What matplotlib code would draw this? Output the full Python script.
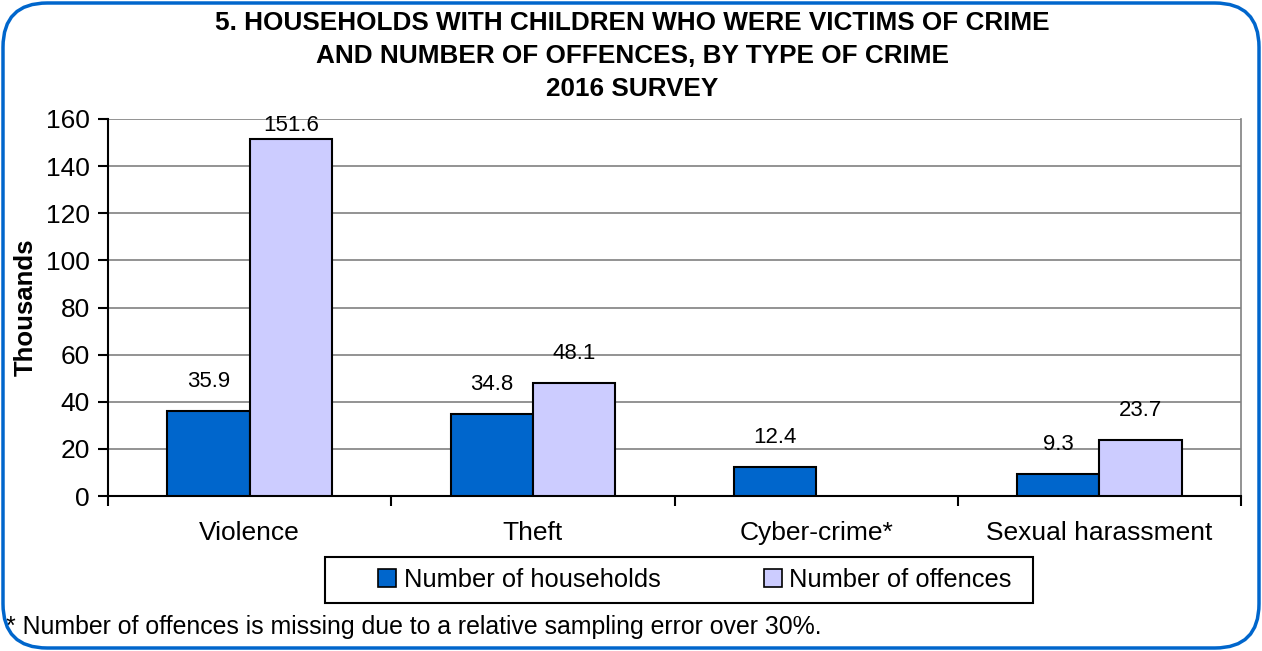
import matplotlib
matplotlib.use("Agg")
import matplotlib.pyplot as plt
import numpy as np
from matplotlib.patches import FancyBboxPatch, Rectangle

plt.rcParams['font.family'] = ['Liberation Sans', 'DejaVu Sans']

categories = ["Violence", "Theft", "Cyber-crime*", "Sexual harassment"]
households = [35.9, 34.8, 12.4, 9.3]
offences = [151.6, 48.1, None, 23.7]
series_names = ["Number of households", "Number of offences"]
yticks = [0, 20, 40, 60, 80, 100, 120, 140, 160]
title = ("5. HOUSEHOLDS WITH CHILDREN WHO WERE VICTIMS OF CRIME\n"
         "AND NUMBER OF OFFENCES, BY TYPE OF CRIME\n2016 SURVEY")
footnote = "* Number of offences is missing due to a relative sampling error over 30%."
ylabel = "Thousands"

c_house = "#0066CC"
c_off = "#CCCCFF"

W, H = 1262, 651
fig = plt.figure(figsize=(W / 100, H / 100), dpi=100)

# rounded border
border = FancyBboxPatch((3 / W, 3 / H), (W - 6) / W, (H - 6) / H,
                        boxstyle="round,pad=0,rounding_size=0.035",
                        transform=fig.transFigure, facecolor="none",
                        edgecolor=c_house, linewidth=2.5, mutation_aspect=W / H,
                        zorder=10)
fig.patches.append(border)

left, right = 108 / W, 1241 / W
bottom, top = 1 - 496 / H, 1 - 119 / H
ax = fig.add_axes([left, bottom, right - left, top - bottom])
ax.set_facecolor("none")

x = np.arange(len(categories))
bw = 0.29
hv = np.array(households, dtype=float)
ov = np.array([np.nan if v is None else v for v in offences], dtype=float)

ax.set_xlim(-0.5, len(categories) - 0.5)
ax.set_ylim(0, 160)

ax.bar(x - bw / 2, hv, bw, color=c_house, edgecolor="black", linewidth=1.5, zorder=3)
mask = ~np.isnan(ov)
ax.bar(x[mask] + bw / 2, ov[mask], bw, color=c_off, edgecolor="black", linewidth=1.5, zorder=3)

# grid
ax.set_yticks(yticks)
ax.yaxis.grid(True, color="#808080", linewidth=1.2, zorder=0)
ax.set_axisbelow(True)
ax.spines["top"].set_visible(False)
ax.spines["right"].set_color("#808080")
ax.spines["right"].set_linewidth(1.2)
ax.spines["left"].set_linewidth(1.5)
ax.spines["bottom"].set_linewidth(1.5)

ax.tick_params(axis="y", direction="out", length=7, width=1.5, labelsize=19, pad=6)
ax.set_xticks(np.arange(-0.5, len(categories), 1.0))
ax.set_xticklabels([])
ax.tick_params(axis="x", direction="out", length=7, width=1.5)
for xi, c in zip(x, categories):
    ax.text(xi, -0.097, c, transform=ax.get_xaxis_transform(), ha="center",
            va="center", fontsize=19)

ax.set_ylabel(ylabel, fontsize=18.5, fontweight="bold", labelpad=6)

# data labels
fig.canvas.draw()
ppu = ax.transData.transform((0, 1))[1] - ax.transData.transform((0, 0))[1]
gap = 19 / ppu
lbl_h = 16 / ppu


def put_label(xp, v):
    yb = v + gap
    if yb + lbl_h > 160:
        ax.text(xp, 161.5, f"{v:.1f}", ha="center", va="top", fontsize=16, zorder=4)
    else:
        ax.text(xp, yb, f"{v:.1f}", ha="center", va="bottom", fontsize=16, zorder=4)


for xi, v in zip(x, hv):
    put_label(xi - bw / 2, v)
for xi, v in zip(x, ov):
    if not np.isnan(v):
        put_label(xi + bw / 2, v)

fig.text(0.5 * (215 + 1049) / W, 1 - 56 / H, title, ha="center", va="center",
         fontsize=18.8, fontweight="bold", linespacing=1.45)

# legend with a separate frame box
lx0, lx1, ly0, ly1 = 325 / W, 1033 / W, 1 - 603 / H, 1 - 557 / H
frame = Rectangle((lx0, ly0), lx1 - lx0, ly1 - ly0, transform=fig.transFigure,
                  facecolor="white", edgecolor="black", linewidth=1.5, zorder=5)
fig.patches.append(frame)
handles = [Rectangle((0, 0), 1, 1, facecolor=c_house, edgecolor="black", linewidth=1.2),
           Rectangle((0, 0), 1, 1, facecolor=c_off, edgecolor="black", linewidth=1.2)]
leg = fig.legend(handles, series_names, loc="center", ncol=2,
                 bbox_to_anchor=((lx0 + lx1) / 2 + 16 / W, (ly0 + ly1) / 2),
                 fontsize=18.4, frameon=False,
                 handlelength=0.7, handleheight=0.7, handletextpad=0.3,
                 columnspacing=4.05, borderpad=0.0)
leg.set_zorder(6)

fig.text(6 / W, 1 - 627 / H, footnote, ha="left", va="center", fontsize=17.9)

fig.savefig("out.png", dpi=100)
